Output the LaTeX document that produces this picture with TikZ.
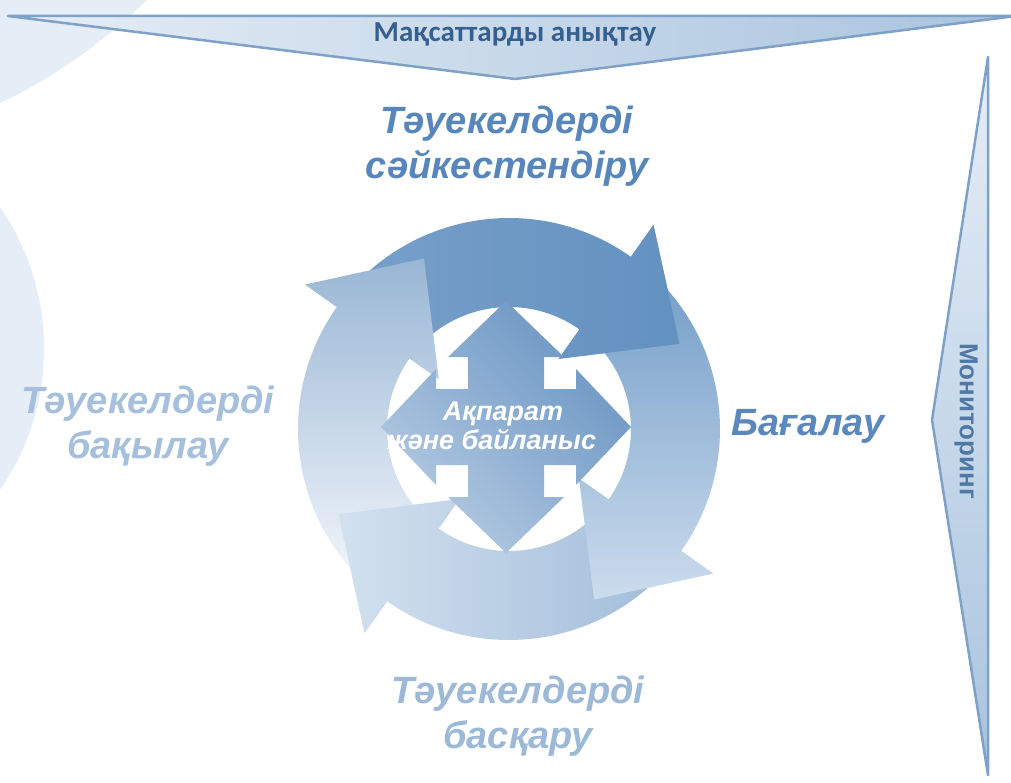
\documentclass[tikz,border=0pt]{standalone}
\usepackage{fontspec}
\setmainfont{Liberation Sans}
\newfontfamily\narrowfont{Carlito}
\usetikzlibrary{calc}
\definecolor{bgpale}{HTML}{E5EDF6}
\definecolor{triEdge}{HTML}{7FA1C8}
\definecolor{triL}{HTML}{E6EEF6}
\definecolor{triR}{HTML}{A9C3DE}
\definecolor{goalTxt}{HTML}{355F8E}
\definecolor{monTxt}{HTML}{4F78A6}
\definecolor{lblDark}{HTML}{5686BC}
\definecolor{lblMid}{HTML}{5A88BD}
\definecolor{lblLight}{HTML}{9DB9D8}
\definecolor{lblPale}{HTML}{A5BFDC}
\definecolor{aTopA}{HTML}{78A0C9}
\definecolor{aTopB}{HTML}{6391C0}
\definecolor{aRightA}{HTML}{739DC8}
\definecolor{aRightB}{HTML}{CCDCED}
\definecolor{aBotA}{HTML}{A2BDDA}
\definecolor{aBotB}{HTML}{D3E1EF}
\definecolor{aLeftA}{HTML}{F3F7FB}
\definecolor{aLeftB}{HTML}{99B6D5}
\definecolor{quadDark}{HTML}{6A95C3}
\definecolor{quadLight}{HTML}{B4CAE2}
\tikzset{
  ringarrow/.style={insert path={
    (#1+84:211) arc[start angle=#1+84, end angle=#1, radius=211]
    -- (#1:250) -- ($(#1:168)+(#1-90:90)$) -- (#1:86) -- (#1:122)
    arc[start angle=#1, end angle=#1+84, radius=122] -- cycle}},
  ringhead/.style={insert path={
    (#1:250) -- ($(#1:168)+(#1-90:90)$) -- (#1:86) -- cycle}},
  shTop/.style={left color=aTopA, right color=aTopB},
  shRight/.style={top color=aRightA, bottom color=aRightB},
  shBot/.style={right color=aBotA, left color=aBotB},
  shLeft/.style={bottom color=aLeftA, top color=aLeftB},
  lbl/.style={align=center, font=\bfseries\itshape\fontsize{38}{45}\selectfont},
  tri/.style={draw=triEdge, line width=2.5pt, line join=round}
}
\begin{document}
\begin{tikzpicture}[x=1pt,y=1pt]
\useasboundingbox (0,0) rectangle (1011,-783);
\begin{scope}
\clip (0,0) rectangle (1011,-783);
% faint background shapes
\fill[bgpale] (0,0) -- (147,0) .. controls (100,-45) and (50,-80) .. (0,-103) -- cycle;
\fill[bgpale] (-205.5,-348.5) circle (249.5);
% top triangle
\shade[tri, left color=triL, right color=triR] (8,-16) -- (1016,-16) -- (515,-79) -- cycle;
% right triangle
\shade[tri, top color=triL, bottom color=triR] (988,-57) -- (988,-775) -- (932,-420) -- cycle;
\end{scope}
\node[font=\narrowfont\bfseries\fontsize{29}{31}\selectfont, text=goalTxt] (goal) at (515,-34) {Мақсаттарды анықтау};
\node[rotate=-90, font=\bfseries\fontsize{26}{28}\selectfont, text=monTxt] (mon) at (966,-421) {Мониторинг};
% ring of arrows
\begin{scope}[shift={(509,-429)}]
\shade[shTop, ringarrow=54.7];
\shade[shRight, ringarrow=-35.3];
\shade[shBot, ringarrow=-125.3];
\shade[shLeft, ringarrow=144.7];
\foreach \h/\s in {54.7/shTop, -35.3/shRight, -125.3/shBot}{
  \begin{scope}
  \clip[ringhead=\h];
  \shade[\s, ringarrow=\h];
  \end{scope}
}
\end{scope}
% central four-way arrow
\begin{scope}[shift={(506,-427)}]
\shade[top color=quadDark, bottom color=quadLight, shading angle=-45]
  (0,126) -- (58,70) -- (38,70) -- (38,38) -- (70,38) -- (70,58) -- (125,0)
  -- (70,-58) -- (70,-38) -- (38,-38) -- (38,-70) -- (58,-70) -- (0,-126)
  -- (-58,-70) -- (-38,-70) -- (-38,-38) -- (-70,-38) -- (-70,-58) -- (-125,0)
  -- (-70,58) -- (-70,38) -- (-38,38) -- (-38,70) -- (-58,70) -- cycle;
\end{scope}
\node[align=center, text=white, font=\bfseries\itshape\fontsize{27}{29}\selectfont] (info) at (503,-426) {Ақпарат\\және байланыс\hspace*{22pt}};
% labels
\node[lbl, text=lblDark] (identify) at (507,-146) {Тәуекелдерді\\сәйкестендіру};
\node[lbl, text=lblMid] (assess) at (808,-426) {Бағалау};
\node[lbl, text=lblLight] (manage) at (518,-716) {Тәуекелдерді\\басқару};
\node[lbl, text=lblPale] (control) at (148,-426) {Тәуекелдерді\\бақылау};
\end{tikzpicture}
\end{document}
